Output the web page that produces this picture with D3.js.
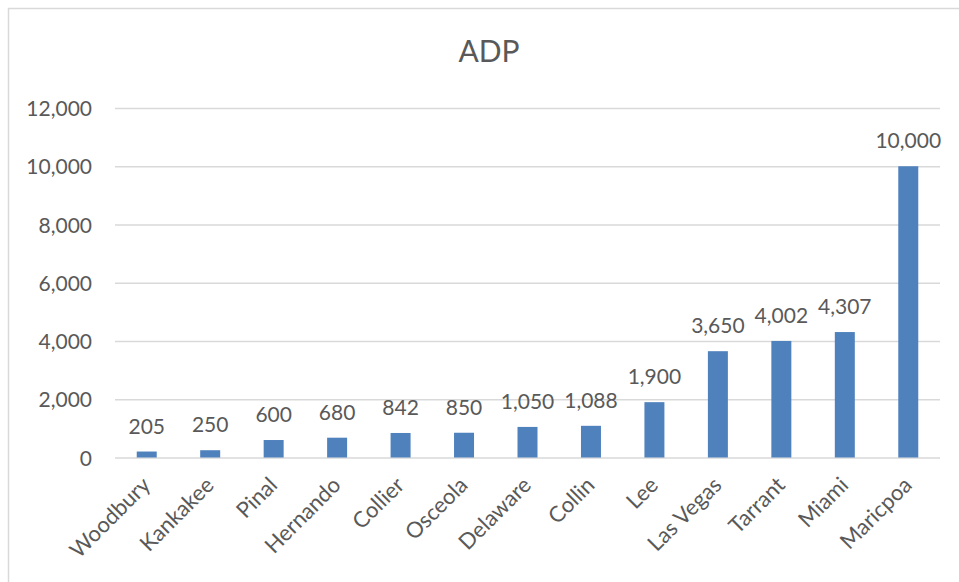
<!DOCTYPE html>
<html>
<head>
<meta charset="utf-8">
<script src="https://cdn.jsdelivr.net/npm/d3@7"></script>
<style>
  html, body { margin: 0; padding: 0; background: #ffffff; }
  svg { display: block; }
  text { font-family: Lato, "Open Sans", "Liberation Sans", sans-serif; fill: #595959; }
</style>
</head>
<body>
<svg id="chart" width="959" height="582"></svg>
<script>
// ADP by county
const categories = ["Woodbury", "Kankakee", "Pinal", "Hernando", "Collier", "Osceola",
  "Delaware", "Collin", "Lee", "Las Vegas", "Tarrant", "Miami", "Maricpoa"];
const adpValues = [205, 250, 600, 680, 842, 850, 1050, 1088, 1900, 3650, 4002, 4307, 10000];
const yTicks = [0, 2000, 4000, 6000, 8000, 10000, 12000];
const chartTitle = "ADP";

const svg = d3.select("#chart");
const W = 959, H = 582;
const plot = { left: 115, right: 940, top: 108, bottom: 457.5 };

// chart frame
svg.append("rect")
  .attr("x", 8.5).attr("y", 8.5)
  .attr("width", W + 20).attr("height", H + 20)
  .attr("fill", "#ffffff")
  .attr("stroke", "#d9d9d9").attr("stroke-width", 1.5);

const x = d3.scaleBand()
  .domain(categories)
  .range([plot.left, plot.right])
  .paddingInner(0.685)
  .paddingOuter(0.3425);

const y = d3.scaleLinear()
  .domain([0, 12000])
  .range([plot.bottom, plot.top]);

const fmt = d3.format(",");

// title
svg.append("text")
  .attr("x", 489).attr("y", 62)
  .attr("text-anchor", "middle")
  .style("font-size", "30px")
  .text(chartTitle);

// gridlines + y tick labels
const yAxis = d3.axisLeft(y)
  .tickValues(yTicks)
  .tickFormat(fmt)
  .tickSize(-(plot.right - plot.left))
  .tickPadding(23);

const gy = svg.append("g")
  .attr("transform", `translate(${plot.left},0)`)
  .call(yAxis);
gy.select(".domain").remove();
gy.selectAll(".tick line")
  .attr("stroke", "#d9d9d9")
  .attr("stroke-width", 1.5);
gy.selectAll(".tick text")
  .style("font-size", "21px")
  .style("font-family", "Lato, 'Open Sans', sans-serif")
  .attr("fill", "#595959")
  .attr("dy", "0.36em");

// bars
svg.append("g").selectAll("rect")
  .data(adpValues)
  .join("rect")
  .attr("x", (d, i) => x(categories[i]))
  .attr("y", d => y(d))
  .attr("width", x.bandwidth())
  .attr("height", d => y(0) - y(d))
  .attr("fill", "#4f81bd");

// value labels
svg.append("g").selectAll("text")
  .data(adpValues)
  .join("text")
  .attr("x", (d, i) => x(categories[i]) + x.bandwidth() / 2)
  .attr("y", d => y(d) - 18)
  .attr("text-anchor", "middle")
  .style("font-size", "21px")
  .text(d => fmt(d));

// x category labels, rotated
const xAxis = d3.axisBottom(x).tickSize(0).tickPadding(0);
const gx = svg.append("g")
  .attr("transform", `translate(0,${plot.bottom})`)
  .call(xAxis);
gx.select(".domain").remove();
gx.selectAll(".tick text")
  .style("font-size", "22px")
  .style("font-family", "Lato, 'Open Sans', sans-serif")
  .attr("fill", "#595959")
  .attr("text-anchor", "end")
  .attr("dy", null)
  .attr("y", 0)
  .attr("transform", "translate(5,29) rotate(-45)");
</script>
</body>
</html>
